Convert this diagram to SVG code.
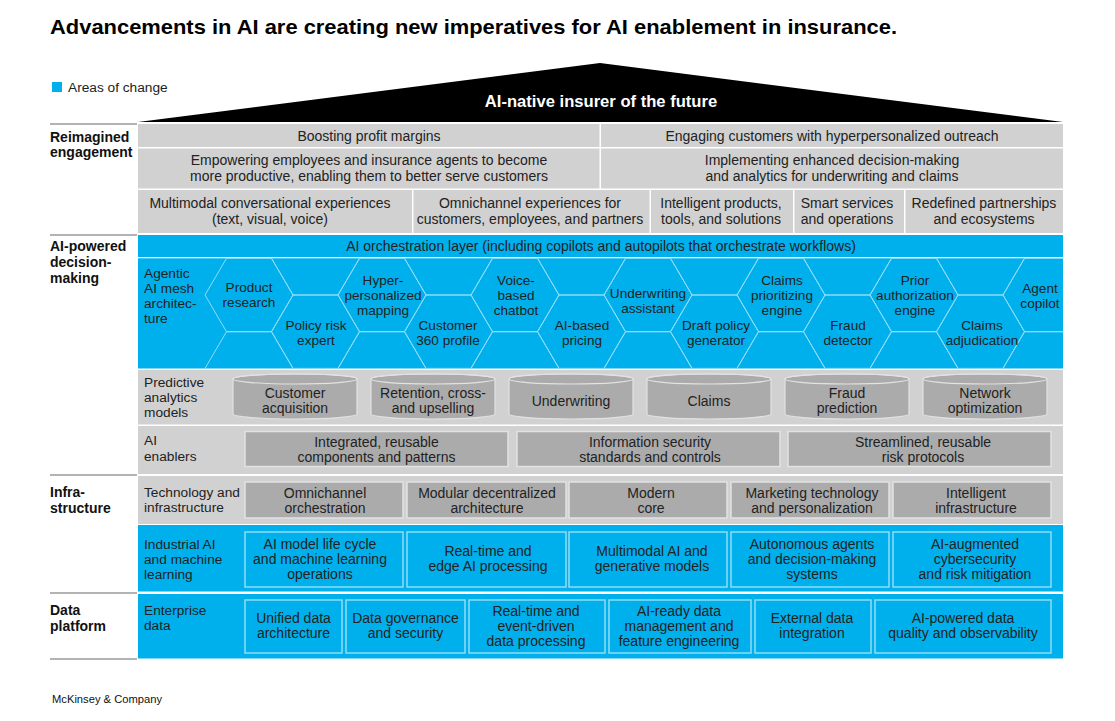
<svg xmlns="http://www.w3.org/2000/svg" xmlns:xlink="http://www.w3.org/1999/xlink" width="1115" height="721" viewBox="0 0 1115 721">
<style>
text{font-family:"Liberation Sans",Arial,sans-serif;font-size:14px;fill:#222}
.c{text-anchor:middle}
.h{font-size:13.6px}
.lab{font-size:13.7px}
.sec{font-weight:bold;fill:#111;font-size:14px}
.gband{fill:#d1d1d1}
.bband{fill:#00b0ec}
.gbox{fill:#ababab;stroke:#e2e2e2;stroke-width:1.5}
.bbox{fill:#00b0ec;stroke:#8fdcf7;stroke-width:1.5}
.cell{fill:#d1d1d1}
.hexl{fill:none;stroke:#8fdcf7;stroke-width:1}
.sep{stroke:#9a9a9a;stroke-width:1.5;fill:none}
</style>
<defs>
<polygon id="hx" points="-44,0 -22.5,-36.7 22.5,-36.7 44,0 22.5,36.7 -22.5,36.7"/>
<g id="cyl"><path d="M-62,0 v35 a62,5 0 0 0 124,0 v-35 a62,5 0 0 0 -124,0 z" fill="#ababab" stroke="#e2e2e2" stroke-width="1.2"/><ellipse cx="0" cy="0" rx="62" ry="5" fill="none" stroke="#e2e2e2" stroke-width="1.2"/></g>
<clipPath id="meshclip"><rect x="138" y="258" width="925" height="110.5"/></clipPath>
</defs>
<rect width="1115" height="721" fill="#fff"/>

<g id="title">
<text x="50" y="34" textLength="847" lengthAdjust="spacingAndGlyphs" style="font-size:21px;font-weight:bold;fill:#000">Advancements in AI are creating new imperatives for AI enablement in insurance.</text>
</g>
<g id="legend">
<rect x="52" y="82" width="10" height="10" fill="#00b0ec"/>
<text x="68" y="92" class="lab">Areas of change</text>
</g>
<g id="roof">
<polygon points="138,122 600,63 1063,122" fill="#000"/>
<text x="601" y="107" class="c" style="font-size:16.6px;font-weight:bold;fill:#fff">AI-native insurer of the future</text>
</g>

<g id="section-labels">
<path class="sep" d="M50,124H137M50,235H137M50,475H137M50,593H137M50,659H137"/>
<text x="50" y="142" class="sec">Reimagined</text>
<text x="50" y="157" class="sec">engagement</text>
<text x="50" y="251" class="sec">AI-powered</text>
<text x="50" y="267" class="sec">decision-</text>
<text x="50" y="283" class="sec">making</text>
<text x="50" y="497" class="sec">Infra-</text>
<text x="50" y="513" class="sec">structure</text>
<text x="50" y="615" class="sec">Data</text>
<text x="50" y="631" class="sec">platform</text>
</g>

<g id="engagement">
<rect class="cell" x="138" y="124" width="461.5" height="23"/>
<rect class="cell" x="601" y="124" width="462" height="23"/>
<text x="369" y="141" class="c">Boosting profit margins</text>
<text x="832" y="141" class="c">Engaging customers with hyperpersonalized outreach</text>
<rect class="cell" x="138" y="148.5" width="461.5" height="40"/>
<rect class="cell" x="601" y="148.5" width="462" height="40"/>
<text x="369" y="165" class="c">Empowering employees and insurance agents to become</text>
<text x="369" y="181" class="c">more productive, enabling them to better serve customers</text>
<text x="832" y="165" class="c">Implementing enhanced decision-making</text>
<text x="832" y="181" class="c">and analytics for underwriting and claims</text>
<rect class="cell" x="138" y="190" width="274" height="43"/>
<rect class="cell" x="413.5" y="190" width="236" height="43"/>
<rect class="cell" x="651" y="190" width="142" height="43"/>
<rect class="cell" x="794.5" y="190" width="109.5" height="43"/>
<rect class="cell" x="905.5" y="190" width="157.5" height="43"/>
<text x="270" y="208" class="c">Multimodal conversational experiences</text>
<text x="270" y="224" class="c">(text, visual, voice)</text>
<text x="530" y="208" class="c">Omnichannel experiences for</text>
<text x="530" y="224" class="c">customers, employees, and partners</text>
<text x="721" y="208" class="c">Intelligent products,</text>
<text x="721" y="224" class="c">tools, and solutions</text>
<text x="847" y="208" class="c">Smart services</text>
<text x="847" y="224" class="c">and operations</text>
<text x="984" y="208" class="c">Redefined partnerships</text>
<text x="984" y="224" class="c">and ecosystems</text>
</g>

<g id="orchestration">
<rect class="bband" x="138" y="235" width="925" height="22"/>
<text x="601" y="251" class="c">AI orchestration layer (including copilots and autopilots that orchestrate workflows)</text>
</g>

<g id="agentic-mesh">
<rect class="bband" x="138" y="258.3" width="925" height="110.2"/>
<g clip-path="url(#meshclip)" class="hexl">
<use xlink:href="#hx" href="#hx" x="249" y="295"/><use xlink:href="#hx" href="#hx" x="249" y="368.4"/>
<use xlink:href="#hx" href="#hx" x="315.5" y="258.3"/><use xlink:href="#hx" href="#hx" x="315.5" y="331.7"/>
<use xlink:href="#hx" href="#hx" x="382" y="295"/><use xlink:href="#hx" href="#hx" x="382" y="368.4"/>
<use xlink:href="#hx" href="#hx" x="448.5" y="258.3"/><use xlink:href="#hx" href="#hx" x="448.5" y="331.7"/>
<use xlink:href="#hx" href="#hx" x="515" y="295"/><use xlink:href="#hx" href="#hx" x="515" y="368.4"/>
<use xlink:href="#hx" href="#hx" x="581.5" y="258.3"/><use xlink:href="#hx" href="#hx" x="581.5" y="331.7"/>
<use xlink:href="#hx" href="#hx" x="648" y="295"/><use xlink:href="#hx" href="#hx" x="648" y="368.4"/>
<use xlink:href="#hx" href="#hx" x="714.5" y="258.3"/><use xlink:href="#hx" href="#hx" x="714.5" y="331.7"/>
<use xlink:href="#hx" href="#hx" x="781" y="295"/><use xlink:href="#hx" href="#hx" x="781" y="368.4"/>
<use xlink:href="#hx" href="#hx" x="847.5" y="258.3"/><use xlink:href="#hx" href="#hx" x="847.5" y="331.7"/>
<use xlink:href="#hx" href="#hx" x="914" y="295"/><use xlink:href="#hx" href="#hx" x="914" y="368.4"/>
<use xlink:href="#hx" href="#hx" x="980.5" y="258.3"/><use xlink:href="#hx" href="#hx" x="980.5" y="331.7"/>
<use xlink:href="#hx" href="#hx" x="1047" y="295"/><use xlink:href="#hx" href="#hx" x="1047" y="368.4"/>
</g>
<text x="144" y="278" class="lab">Agentic</text>
<text x="144" y="293" class="lab">AI mesh</text>
<text x="144" y="308" class="lab">architec-</text>
<text x="144" y="323" class="lab">ture</text>
</g>
<g id="hex-product-research"><text x="249" y="292" class="c h">Product</text><text x="249" y="307" class="c h">research</text></g>
<g id="hex-policy-risk"><text x="316" y="330" class="c h">Policy risk</text><text x="316" y="345" class="c h">expert</text></g>
<g id="hex-hyper"><text x="383" y="285" class="c h">Hyper-</text><text x="383" y="300" class="c h">personalized</text><text x="383" y="315" class="c h">mapping</text></g>
<g id="hex-customer360"><text x="448" y="330" class="c h">Customer</text><text x="448" y="345" class="c h">360 profile</text></g>
<g id="hex-voice"><text x="516" y="285" class="c h">Voice-</text><text x="516" y="300" class="c h">based</text><text x="516" y="315" class="c h">chatbot</text></g>
<g id="hex-pricing"><text x="582" y="330" class="c h">AI-based</text><text x="582" y="345" class="c h">pricing</text></g>
<g id="hex-underwriting"><text x="648" y="298" class="c h">Underwriting</text><text x="648" y="313" class="c h">assistant</text></g>
<g id="hex-draft"><text x="716" y="330" class="c h">Draft policy</text><text x="716" y="345" class="c h">generator</text></g>
<g id="hex-claims-prio"><text x="782" y="285" class="c h">Claims</text><text x="782" y="300" class="c h">prioritizing</text><text x="782" y="315" class="c h">engine</text></g>
<g id="hex-fraud"><text x="848" y="330" class="c h">Fraud</text><text x="848" y="345" class="c h">detector</text></g>
<g id="hex-prior-auth"><text x="915" y="285" class="c h">Prior</text><text x="915" y="300" class="c h">authorization</text><text x="915" y="315" class="c h">engine</text></g>
<g id="hex-claims-adj"><text x="982" y="330" class="c h">Claims</text><text x="982" y="345" class="c h">adjudication</text></g>
<g id="hex-agent-copilot"><text x="1040" y="293" class="c h">Agent</text><text x="1040" y="308" class="c h">copilot</text></g>

<g id="predictive">
<rect class="gband" x="138" y="370" width="925" height="54.5"/>
<text x="144" y="387" class="lab">Predictive</text>
<text x="144" y="402" class="lab">analytics</text>
<text x="144" y="417" class="lab">models</text>
</g>
<g id="cyl-acquisition"><use xlink:href="#cyl" href="#cyl" x="295" y="379"/><text x="295" y="398" class="c">Customer</text><text x="295" y="413" class="c">acquisition</text></g>
<g id="cyl-retention"><use xlink:href="#cyl" href="#cyl" x="433" y="379"/><text x="433" y="398" class="c">Retention, cross-</text><text x="433" y="413" class="c">and upselling</text></g>
<g id="cyl-underwriting"><use xlink:href="#cyl" href="#cyl" x="571" y="379"/><text x="571" y="405.5" class="c">Underwriting</text></g>
<g id="cyl-claims"><use xlink:href="#cyl" href="#cyl" x="709" y="379"/><text x="709" y="405.5" class="c">Claims</text></g>
<g id="cyl-fraud"><use xlink:href="#cyl" href="#cyl" x="847" y="379"/><text x="847" y="398" class="c">Fraud</text><text x="847" y="413" class="c">prediction</text></g>
<g id="cyl-network"><use xlink:href="#cyl" href="#cyl" x="985" y="379"/><text x="985" y="398" class="c">Network</text><text x="985" y="413" class="c">optimization</text></g>

<g id="ai-enablers">
<rect class="gband" x="138" y="426" width="925" height="48"/>
<text x="144" y="445" class="lab">AI</text>
<text x="144" y="461" class="lab">enablers</text>
</g>
<g id="en-components"><rect class="gbox" x="245" y="431.5" width="263" height="35"/><text x="376.5" y="447" class="c">Integrated, reusable</text><text x="376.5" y="462" class="c">components and patterns</text></g>
<g id="en-security"><rect class="gbox" x="517" y="431.5" width="263" height="35"/><text x="650" y="447" class="c">Information security</text><text x="650" y="462" class="c">standards and controls</text></g>
<g id="en-risk"><rect class="gbox" x="788" y="431.5" width="263" height="35"/><text x="923" y="447" class="c">Streamlined, reusable</text><text x="923" y="462" class="c">risk protocols</text></g>

<g id="tech-infra">
<rect class="gband" x="138" y="476" width="925" height="48"/>
<text x="144" y="497" class="lab">Technology and</text>
<text x="144" y="512" class="lab">infrastructure</text>
</g>
<g id="ti-omni"><rect class="gbox" x="245" y="482" width="158" height="36"/><text x="325" y="497.5" class="c">Omnichannel</text><text x="325" y="512.5" class="c">orchestration</text></g>
<g id="ti-modular"><rect class="gbox" x="407" y="482" width="159" height="36"/><text x="487" y="497.5" class="c">Modular decentralized</text><text x="487" y="512.5" class="c">architecture</text></g>
<g id="ti-core"><rect class="gbox" x="569" y="482" width="158" height="36"/><text x="651" y="497.5" class="c">Modern</text><text x="651" y="512.5" class="c">core</text></g>
<g id="ti-martech"><rect class="gbox" x="731" y="482" width="158" height="36"/><text x="812" y="497.5" class="c">Marketing technology</text><text x="812" y="512.5" class="c">and personalization</text></g>
<g id="ti-intel"><rect class="gbox" x="893" y="482" width="158" height="36"/><text x="976" y="497.5" class="c">Intelligent</text><text x="976" y="512.5" class="c">infrastructure</text></g>

<g id="industrial-ai">
<rect class="bband" x="138" y="525" width="925" height="66.5"/>
<text x="144" y="549" class="lab">Industrial AI</text>
<text x="144" y="564" class="lab">and machine</text>
<text x="144" y="579" class="lab">learning</text>
</g>
<g id="ia-lifecycle"><rect class="bbox" x="245" y="532" width="158" height="55"/><text x="320" y="549" class="c">AI model life cycle</text><text x="320" y="564" class="c">and machine learning</text><text x="320" y="579" class="c">operations</text></g>
<g id="ia-edge"><rect class="bbox" x="407" y="532" width="159" height="55"/><text x="488" y="556" class="c">Real-time and</text><text x="488" y="571" class="c">edge AI processing</text></g>
<g id="ia-multimodal"><rect class="bbox" x="569" y="532" width="158" height="55"/><text x="652" y="556" class="c">Multimodal AI and</text><text x="652" y="571" class="c">generative models</text></g>
<g id="ia-agents"><rect class="bbox" x="731" y="532" width="158" height="55"/><text x="812" y="549" class="c">Autonomous agents</text><text x="812" y="564" class="c">and decision-making</text><text x="812" y="579" class="c">systems</text></g>
<g id="ia-cyber"><rect class="bbox" x="893" y="532" width="158" height="55"/><text x="975" y="549" class="c">AI-augmented</text><text x="975" y="564" class="c">cybersecurity</text><text x="975" y="579" class="c">and risk mitigation</text></g>

<g id="enterprise-data">
<rect class="bband" x="138" y="594" width="925" height="64.5"/>
<text x="144" y="615" class="lab">Enterprise</text>
<text x="144" y="630" class="lab">data</text>
</g>
<g id="ed-unified"><rect class="bbox" x="245" y="600" width="97" height="53"/><text x="293.5" y="623" class="c">Unified data</text><text x="293.5" y="638" class="c">architecture</text></g>
<g id="ed-governance"><rect class="bbox" x="346" y="600" width="119" height="53"/><text x="405.5" y="623" class="c">Data governance</text><text x="405.5" y="638" class="c">and security</text></g>
<g id="ed-realtime"><rect class="bbox" x="469" y="600" width="136" height="53"/><text x="536" y="615.5" class="c">Real-time and</text><text x="536" y="630.5" class="c">event-driven</text><text x="536" y="645.5" class="c">data processing</text></g>
<g id="ed-aiready"><rect class="bbox" x="609" y="600" width="142" height="53"/><text x="679" y="615.5" class="c">AI-ready data</text><text x="679" y="630.5" class="c">management and</text><text x="679" y="645.5" class="c">feature engineering</text></g>
<g id="ed-external"><rect class="bbox" x="755" y="600" width="116" height="53"/><text x="812" y="623" class="c">External data</text><text x="812" y="638" class="c">integration</text></g>
<g id="ed-quality"><rect class="bbox" x="875" y="600" width="176" height="53"/><text x="963" y="623" class="c">AI-powered data</text><text x="963" y="638" class="c">quality and observability</text></g>

<g id="connectors"></g>

<g id="footer">
<text x="52" y="703" style="font-size:11.2px;fill:#111">McKinsey &amp; Company</text>
</g>
</svg>
